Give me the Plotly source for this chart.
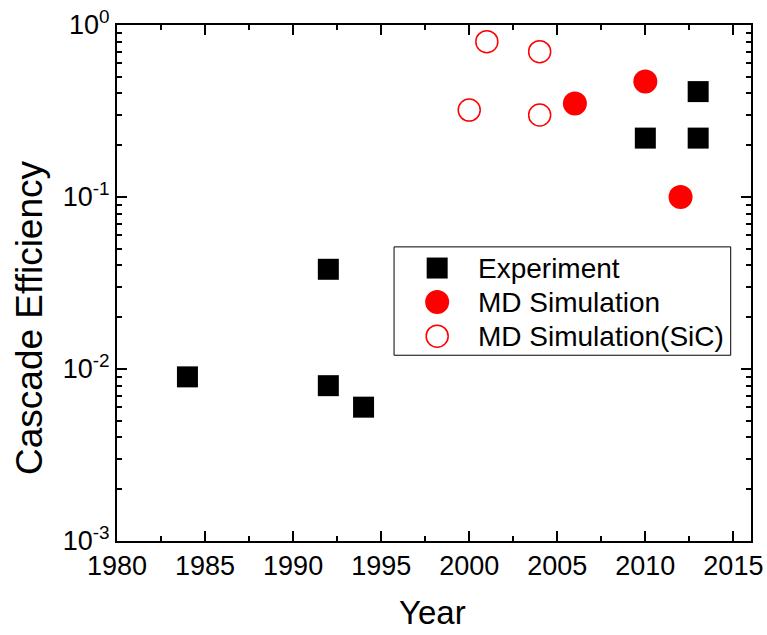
import plotly.graph_objects as go

# Cascade efficiency by year
exp_year = [1984, 1992, 1992, 1994, 2010, 2013, 2013]
exp_eff = [0.009, 0.038, 0.008, 0.006, 0.22, 0.22, 0.41]

md_year = [2006, 2010, 2012]
md_eff = [0.35, 0.47, 0.10]

sic_year = [2000, 2001, 2004, 2004]
sic_eff = [0.32, 0.80, 0.30, 0.70]

x_ticks = [1980, 1985, 1990, 1995, 2000, 2005, 2010, 2015]
y_ticks = [0.001, 0.01, 0.1, 1]
y_labels = ["10<sup>-3</sup>", "10<sup>-2</sup>", "10<sup>-1</sup>", "10<sup>0</sup>"]

series_names = ["Experiment", "MD Simulation", "MD Simulation(SiC)"]

FONT = "Liberation Sans, Arial, sans-serif"
TICK_FONT = dict(family=FONT, size=27, color="black")

fig = go.Figure()
fig.add_trace(go.Scatter(
    x=exp_year, y=exp_eff, mode="markers", name=series_names[0],
    marker=dict(symbol="square", size=21, color="black", line=dict(width=0)),
))
fig.add_trace(go.Scatter(
    x=md_year, y=md_eff, mode="markers", name=series_names[1],
    marker=dict(symbol="circle", size=24, color="red", line=dict(width=0)),
))
fig.add_trace(go.Scatter(
    x=sic_year, y=sic_eff, mode="markers", name=series_names[2],
    marker=dict(symbol="circle-open", size=22, color="red", line=dict(width=1.5, color="red")),
))

fig.update_layout(
    xaxis=dict(
        range=[1980, 2016], tickmode="array", tickvals=x_ticks,
        ticktext=[str(v) for v in x_ticks],
        showline=True, linecolor="black", linewidth=2, mirror="allticks",
        ticks="inside", ticklen=10, tickwidth=1.5, tickcolor="black",
        showgrid=False, zeroline=False, automargin=False,
        tickfont=TICK_FONT,
        minor=dict(ticks="inside", ticklen=5, tickwidth=1.5, tickcolor="black", dtick=2.5, tick0=1980),
    ),
    yaxis=dict(
        type="log", range=[-3, 0], tickmode="array", tickvals=y_ticks, ticktext=y_labels,
        showline=True, linecolor="black", linewidth=2, mirror="allticks",
        ticks="inside", ticklen=10, tickwidth=1.5, tickcolor="black",
        showgrid=False, zeroline=False, automargin=False,
        tickfont=TICK_FONT,
        minor=dict(ticks="inside", ticklen=5, tickwidth=1.5, tickcolor="black", dtick="D1"),
    ),
)

# Legend box drawn inside the plot area
legend_x0, legend_x1 = 0.437, 0.968
legend_y0, legend_y1 = 0.360, 0.570
key_x = 0.505
text_x = 0.566
row_y = [0.529, 0.463, 0.397]

shapes = [dict(type="rect", xref="paper", yref="paper",
               x0=legend_x0, x1=legend_x1, y0=legend_y0, y1=legend_y1,
               line=dict(color="black", width=1), fillcolor="rgba(0,0,0,0)", layer="below")]
key_styles = [
    dict(type="rect", r=10.5, fillcolor="black", line=dict(width=0)),
    dict(type="circle", r=12, fillcolor="red", line=dict(width=0)),
    dict(type="circle", r=11, fillcolor="rgba(0,0,0,0)", line=dict(color="red", width=1.5)),
]
for yk, st in zip(row_y, key_styles):
    r = st["r"]
    shapes.append(dict(type=st["type"], xref="paper", yref="paper",
                       xsizemode="pixel", ysizemode="pixel",
                       xanchor=key_x, yanchor=yk,
                       x0=-r, x1=r, y0=-r, y1=r,
                       fillcolor=st["fillcolor"], line=st["line"]))

annotations = [dict(xref="paper", yref="paper", x=text_x, y=yk, text=name,
                    showarrow=False, xanchor="left", yanchor="middle",
                    font=dict(family=FONT, size=28, color="black"))
               for yk, name in zip(row_y, series_names)]

# Axis titles
annotations.append(dict(xref="paper", yref="paper", x=0.497, y=-0.138, text="Year",
                        showarrow=False, xanchor="center", yanchor="middle",
                        font=dict(family=FONT, size=33, color="black")))
annotations.append(dict(xref="paper", yref="paper", x=-0.139, y=0.432, text="Cascade Efficiency",
                        showarrow=False, xanchor="center", yanchor="middle", textangle=-90,
                        font=dict(family=FONT, size=37, color="black")))

fig.update_layout(
    width=767, height=635,
    margin=dict(l=117, r=16, t=25, b=94),
    paper_bgcolor="white", plot_bgcolor="white",
    showlegend=False,
    shapes=shapes, annotations=annotations,
)

fig.write_html("out.html")
